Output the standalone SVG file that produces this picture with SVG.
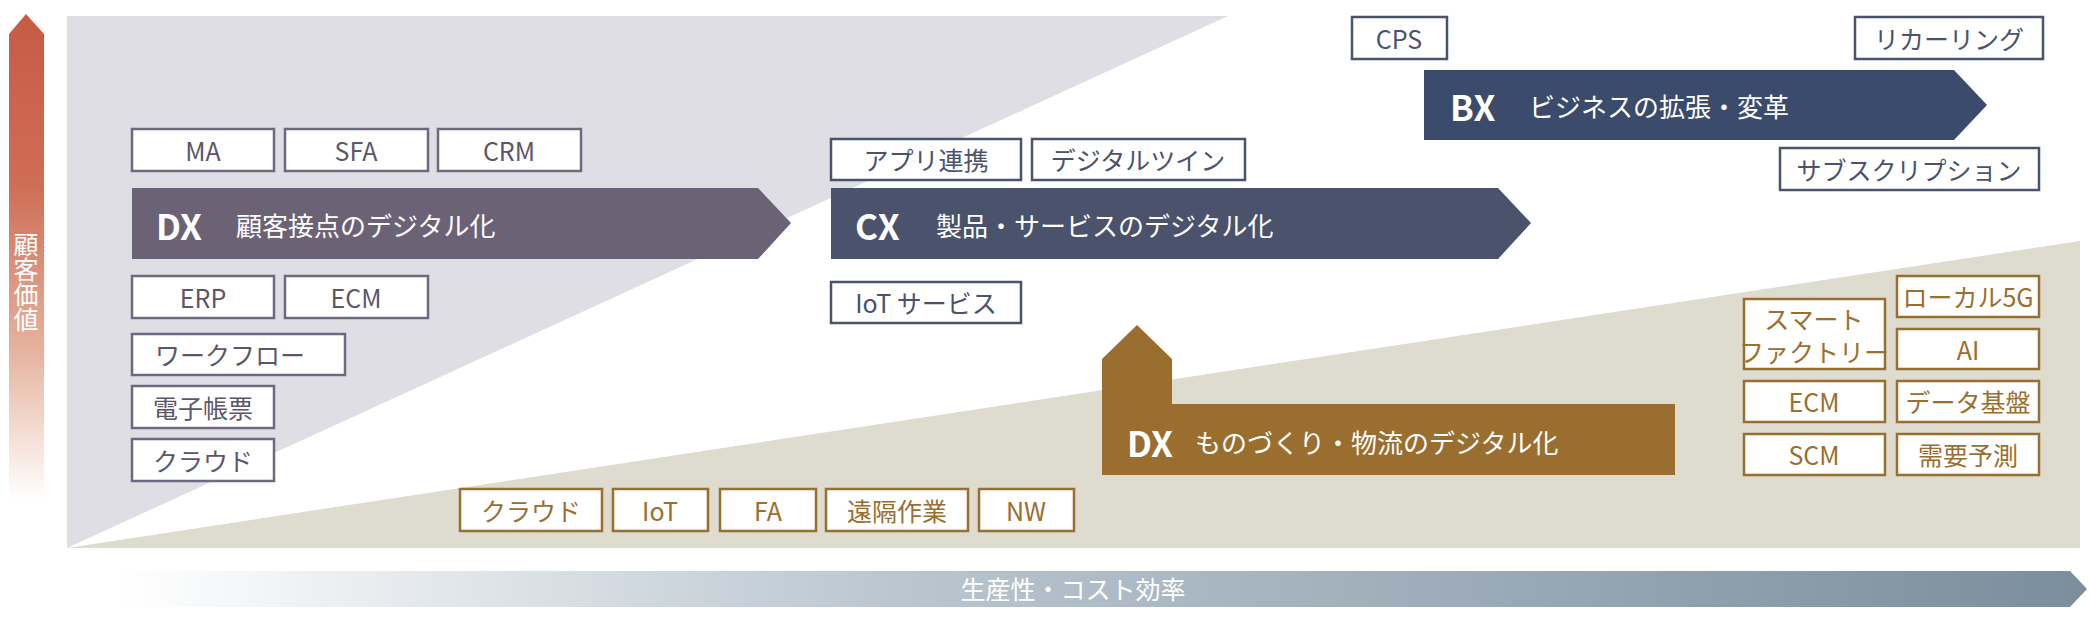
<svg xmlns="http://www.w3.org/2000/svg" width="2091" height="626" viewBox="0 0 2091 626">
<defs>
<linearGradient id="gv" x1="0" y1="0" x2="0" y2="1">
<stop offset="0" stop-color="#c85a45"/><stop offset="0.35" stop-color="#cf6d55"/><stop offset="0.7" stop-color="#e6b5a0"/><stop offset="1" stop-color="#ffffff"/>
</linearGradient>
<linearGradient id="gh" x1="0" y1="0" x2="1" y2="0">
<stop offset="0" stop-color="#ffffff"/><stop offset="0.4" stop-color="#b9c5cf"/><stop offset="1" stop-color="#7b8e9d"/>
</linearGradient>
<style>
text{font-family:"Noto Sans CJK JP","Noto Sans",sans-serif;text-anchor:middle;dominant-baseline:central}
.bp rect{fill:#fff;stroke:#6e6880;stroke-width:2.5}
.bp text{fill:#5c566a;font-size:25px}
.bc rect{fill:#fff;stroke:#4a526c;stroke-width:2.5}
.bc text{fill:#4a526c;font-size:25px}
.bo rect{fill:#fff;stroke:#9a6e2e;stroke-width:2.5}
.bo text{fill:#9a6e2e;font-size:25px}
.big{fill:#fff;font-size:35px;font-weight:bold;text-anchor:start}
.lab{fill:#fff;font-size:26px;text-anchor:start}
.vt{fill:#fff;font-size:25px;writing-mode:vertical-rl;text-anchor:start;dominant-baseline:auto}
</style>
</defs>
<g id="background">
<rect x="67" y="16" width="2013" height="532" fill="#ffffff"/>
<polygon points="67,16 1228,16 67,548" fill="#e0dee5"/>
<polygon points="67,548 2080,241 2080,548" fill="#dddccf"/>
</g>
<g id="axis-y">
<polygon points="9,34 26,14 44,34 44,500 9,500" fill="url(#gv)"/>
<text class="vt" x="26" y="232">顧客価値</text>
</g>
<g id="axis-x">
<polygon points="120,571 2070,571 2087,589 2070,607 120,607" fill="url(#gh)"/>
<text x="1073" y="588" fill="#fff" font-size="25">生産性・コスト効率</text>
</g>
<g id="connectors"></g>
<g id="dx1">
<polygon points="132,188 758,188 791,223 758,259 132,259" fill="#6b6275"/>
<text class="big" x="156" y="224">DX</text>
<text class="lab" x="236" y="224">顧客接点のデジタル化</text>
</g>
<g id="cx">
<polygon points="831,188 1498,188 1531,223 1498,259 831,259" fill="#4a526c"/>
<text class="big" x="855" y="224">CX</text>
<text class="lab" x="936" y="224">製品・サービスのデジタル化</text>
</g>
<g id="bx">
<polygon points="1424,70 1954,70 1987,105 1954,140 1424,140" fill="#3b4b6b"/>
<text class="big" x="1450" y="105">BX</text>
<text class="lab" x="1529" y="105">ビジネスの拡張・変革</text>
</g>
<g id="dx2">
<polygon points="1102,359 1137,325 1172,359 1172,404 1675,404 1675,475 1102,475" fill="#9a6e2e"/>
<text class="big" x="1127" y="441">DX</text>
<text class="lab" x="1195" y="441">ものづくり・物流のデジタル化</text>
</g>
<g class="bp">
<g id="n-ma"><rect x="132" y="129" width="142" height="42"/><text x="203" y="150">MA</text></g>
<g id="n-sfa"><rect x="285" y="129" width="143" height="42"/><text x="356" y="150">SFA</text></g>
<g id="n-crm"><rect x="438" y="129" width="143" height="42"/><text x="509" y="150">CRM</text></g>
<g id="n-erp"><rect x="132" y="276" width="142" height="42"/><text x="203" y="297">ERP</text></g>
<g id="n-ecm1"><rect x="285" y="276" width="143" height="42"/><text x="356" y="297">ECM</text></g>
<g id="n-wf"><rect x="132" y="334" width="213" height="41"/><text x="230" y="354">ワークフロー</text></g>
<g id="n-denshi"><rect x="132" y="386" width="142" height="42"/><text x="203" y="407">電子帳票</text></g>
<g id="n-cloud1"><rect x="132" y="439" width="142" height="42"/><text x="203" y="460">クラウド</text></g>
</g>
<g class="bc">
<g id="n-app"><rect x="831" y="139" width="190" height="41"/><text x="926" y="159">アプリ連携</text></g>
<g id="n-twin"><rect x="1032" y="139" width="213" height="41"/><text x="1138" y="159">デジタルツイン</text></g>
<g id="n-iots"><rect x="831" y="282" width="190" height="41"/><text x="926" y="302">IoT サービス</text></g>
<g id="n-cps"><rect x="1352" y="17" width="95" height="42"/><text x="1399" y="38">CPS</text></g>
<g id="n-rec"><rect x="1855" y="17" width="188" height="42"/><text x="1949" y="38">リカーリング</text></g>
<g id="n-sub"><rect x="1780" y="148" width="259" height="42"/><text x="1909" y="169">サブスクリプション</text></g>
</g>
<g class="bo">
<g id="n-cloud2"><rect x="460" y="489" width="142" height="42"/><text x="531" y="510">クラウド</text></g>
<g id="n-iot"><rect x="613" y="489" width="95" height="42"/><text x="660" y="510">IoT</text></g>
<g id="n-fa"><rect x="720" y="489" width="96" height="42"/><text x="768" y="510">FA</text></g>
<g id="n-remote"><rect x="826" y="489" width="142" height="42"/><text x="897" y="510">遠隔作業</text></g>
<g id="n-nw"><rect x="979" y="489" width="95" height="42"/><text x="1026" y="510">NW</text></g>
<g id="n-smart"><rect x="1744" y="299" width="141" height="70"/><text x="1814" y="318" font-size="22">スマート</text><text x="1814" y="351" font-size="22">ファクトリー</text></g>
<g id="n-5g"><rect x="1897" y="276" width="142" height="41"/><text x="1968" y="296">ローカル5G</text></g>
<g id="n-ai"><rect x="1897" y="329" width="142" height="40"/><text x="1968" y="349">AI</text></g>
<g id="n-ecm2"><rect x="1744" y="381" width="141" height="41"/><text x="1814" y="401">ECM</text></g>
<g id="n-data"><rect x="1897" y="381" width="142" height="41"/><text x="1968" y="401">データ基盤</text></g>
<g id="n-scm"><rect x="1744" y="434" width="141" height="41"/><text x="1814" y="454">SCM</text></g>
<g id="n-demand"><rect x="1897" y="434" width="142" height="41"/><text x="1968" y="454">需要予測</text></g>
</g>
</svg>
